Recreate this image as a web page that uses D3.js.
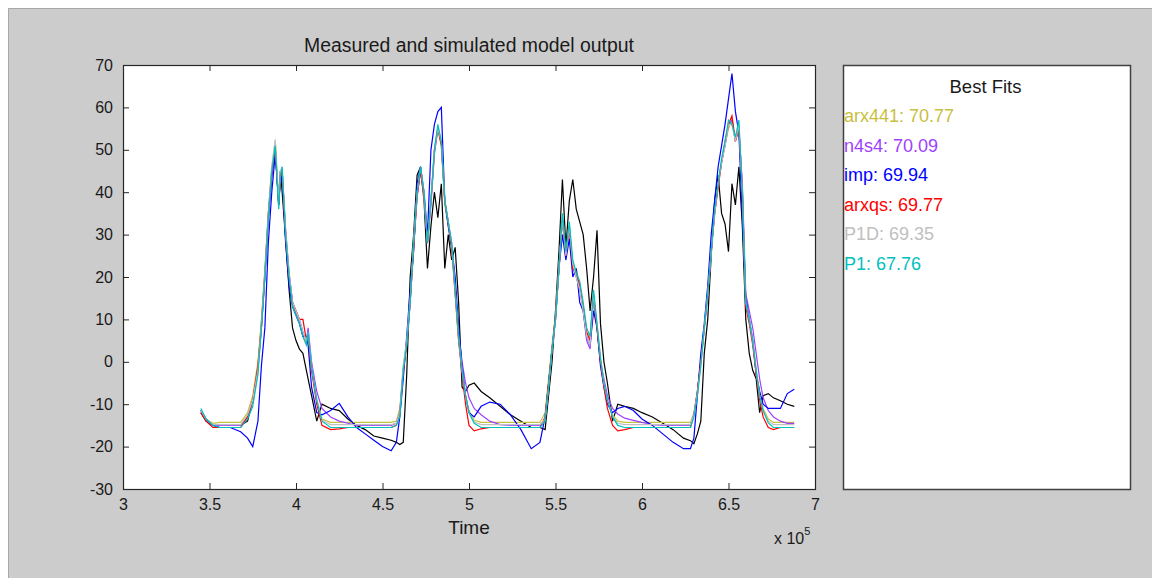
<!DOCTYPE html>
<html>
<head>
<meta charset="utf-8">
<script src="https://cdnjs.cloudflare.com/ajax/libs/d3/7.8.5/d3.min.js"></script>
<style>
	body { margin: 0; background: #ffffff; }
	svg text { font-family: Arial, "Liberation Sans", Helvetica, sans-serif; fill: #1a1a1a; }
</style>
</head>
<body>
<div id="chart"></div>
<script>
// time axis is in units of 1e5 (the "x 10^5" multiplier)
var time = [
	3.45, 3.48, 3.52, 3.56, 3.62, 3.68, 3.72, 3.75, 3.78, 3.80,
	3.82, 3.84, 3.86, 3.88, 3.90, 3.91, 3.92, 3.94, 3.96, 3.98,
	4.00, 4.02, 4.04, 4.06, 4.07, 4.09, 4.12, 4.15, 4.20, 4.25,
	4.30, 4.35, 4.40, 4.45, 4.50, 4.55, 4.58, 4.60, 4.62, 4.64,
	4.66, 4.68, 4.70, 4.72, 4.74, 4.76, 4.78, 4.80, 4.82, 4.84,
	4.86, 4.88, 4.90, 4.92, 4.94, 4.96, 4.98, 5.00, 5.03, 5.07,
	5.12, 5.18, 5.24, 5.30, 5.36, 5.41, 5.44, 5.46, 5.48, 5.50,
	5.52, 5.54, 5.56, 5.58, 5.60, 5.62, 5.64, 5.66, 5.68, 5.70,
	5.72, 5.74, 5.76, 5.78, 5.80, 5.83, 5.86, 5.90, 5.95, 6.00,
	6.06, 6.12, 6.18, 6.24, 6.28, 6.30, 6.32, 6.34, 6.36, 6.38,
	6.40, 6.42, 6.44, 6.46, 6.48, 6.50, 6.52, 6.54, 6.56, 6.58,
	6.60, 6.62, 6.64, 6.66, 6.68, 6.70, 6.73, 6.76, 6.80, 6.84, 6.88
];

var measured = [
	-12, -14, -15, -15, -15, -15, -14, -9, -1, 8,
	20, 34, 44, 50, 37, 45, 40, 29, 17, 8,
	5, 3, 2, -2, -4, -8, -14, -10, -11, -11.5,
	-13.5, -15, -16, -17.5, -18, -18.5, -19, -19.5, -19, -3,
	20, 30, 44, 46, 38, 22, 32, 40, 34, 42,
	22, 30, 24, 27, 14, -6, -7, -5.5, -5, -7,
	-8.5, -10.5, -12.5, -14, -15.5, -15.5, -16, -8, 0, 12,
	26, 43, 27, 38, 43, 36, 33, 30, 22, 12,
	20, 31, 9, 0, -5, -14, -10, -10.5, -11, -12,
	-13, -14.5, -16, -18, -18.6, -19.3, -17, -14, 2, 10,
	25, 38, 44, 35, 32.5, 26, 42, 37, 46, 32,
	10, 2, -2, -4, -12, -8, -7.5, -8.5, -9.2, -10, -10.5
];

var arx441 = [
	-11.5, -13.5, -14.5, -14.3, -14.3, -14.3, -12, -8, 0, 10,
	22, 35, 46, 52, 38, 43, 45, 31, 21, 14,
	11, 9, 6, 4, 6, -2, -9, -13.5, -14.3, -14.3,
	-14.3, -14.3, -14.3, -14.3, -14.3, -14.3, -14, -11, -1, 5,
	15, 28, 40, 45, 38, 29, 38, 49, 55, 51,
	37, 32, 27, 16, 5, -2, -8, -11.5, -13.8, -14.3,
	-14.3, -14.3, -14.3, -14.3, -14.3, -14.3, -12, -4, 4, 11,
	23, 33, 25, 31, 22, 22, 18, 13, 7, 6,
	15, 8, 0, -5, -9, -12.5, -14, -14.3, -14.3, -14.3,
	-14.3, -14.3, -14.3, -14.3, -14.3, -12, -7, 0, 8, 16,
	26, 35, 42, 47, 51, 55, 57, 52, 56, 38,
	14, 10, 5, -2, -7, -11, -13.5, -14.3, -14.3, -14.3, -14.3
];

var n4s4 = [
	-11.5, -13.8, -15, -15, -15, -15, -13, -9, -2, 8,
	20, 34, 44, 50, 37, 45, 45, 31, 21, 14,
	12, 10, 7, 5, 8, 0, -7, -11, -13, -14,
	-14.5, -15, -15, -15, -15, -15, -14.5, -12, -2, 4,
	14, 27, 39, 45, 39, 28, 37, 49, 55, 52,
	38, 33, 28, 18, 7, 0, -5, -8.5, -11, -12.5,
	-14, -14.8, -15, -15, -15, -15, -13.5, -6, 3, 10,
	22, 34, 25, 31, 22, 20, 17, 12, 5, 3,
	15, 8, 0, -4, -8, -11, -12.3, -13.3, -13.8, -14.3,
	-14.8, -15, -15, -15, -15, -12.5, -7, 0, 8, 16,
	26, 35, 42, 47, 51, 56, 57, 52, 55, 42,
	16, 12, 8, 2, -4, -8.5, -11.5, -13, -14, -14.5, -14.5
];

var imp = [
	-11.5, -13.5, -15, -15.5, -15.5, -16.5, -18, -20, -14, -1,
	8, 28, 40, 49, 38, 42, 44, 28, 18, 13,
	11, 9, 6, 6, 4, -6, -12, -12.5, -11.5, -9.8,
	-13, -15.5, -17, -18.5, -20, -21, -19, -13, -4, 6,
	17, 26, 42, 46, 40, 30, 50, 56, 59, 60,
	38, 32, 27, 20, 8, -1, -8, -12, -13, -10.5,
	-9.5, -10, -12.5, -16, -20.5, -19, -13, -5, 3, 10,
	22, 30, 24, 29, 20, 22, 14, 12, 6, 4,
	12, 8, -1, -6, -10, -12, -11, -10.5, -11.5, -13.5,
	-15, -17, -19, -20.5, -20.5, -18, -8, 2, 9, 18,
	30, 38, 46, 51, 56, 62, 68, 59, 54, 34,
	15, 10, 5, -3, -7, -10, -11, -11, -11, -7.5, -6.5
];

var arxqs = [
	-12, -14, -15.5, -15.5, -15.5, -15.5, -13, -9, -1, 9,
	21, 35, 45, 51, 37, 44, 45, 30, 20, 14,
	12, 10, 10, 5, 6, -2, -10, -15, -16, -15.8,
	-15.5, -15.5, -15.5, -15.5, -15.5, -15.5, -15, -12, -2, 4,
	14, 27, 39, 45, 39, 28, 38, 50, 55, 51,
	38, 33, 27, 16, 5, -3, -10, -15, -16.3, -15.8,
	-15.5, -15.5, -15.5, -15.5, -15.5, -15.5, -13, -5, 3, 11,
	22, 34, 25, 32, 22, 21, 18, 13, 7, 5,
	16, 8, 0, -6, -11, -15, -16.3, -16, -15.5, -15.5,
	-15.5, -15.5, -15.5, -15.5, -15.5, -12.5, -7, 0, 8, 16,
	26, 35, 41, 47, 52, 56, 58, 52, 55, 41,
	13, 9, 4, -3, -9, -13, -15.5, -16, -15.5, -15.5, -15.5
];

var p1d = [
	-11.5, -13.5, -14.8, -14.8, -14.8, -14.8, -12.5, -9, -2, 9,
	21, 35, 46, 52.5, 38, 45, 46, 31, 21, 14,
	12, 10, 7, 5, 7, -1, -9, -13.8, -14.8, -14.8,
	-14.8, -14.8, -14.8, -14.8, -14.8, -14.8, -14.5, -12, -1, 5,
	15, 28, 40, 46, 40, 28, 38, 50, 55, 52,
	38, 33, 28, 17, 6, -2, -8, -12, -14.2, -14.8,
	-14.8, -14.8, -14.8, -14.8, -14.8, -14.8, -13.5, -6, 3, 10,
	22, 34, 25, 32, 23, 20, 17, 12, 6, 4,
	16, 9, 1, -5, -9, -12.8, -14.5, -14.8, -14.8, -14.8,
	-14.8, -14.8, -14.8, -14.8, -14.8, -12.5, -7.5, -1, 8, 16,
	26, 35, 42, 47, 51, 56, 56, 52, 56, 40,
	14, 10, 5, -2, -8, -11.5, -14, -14.8, -14.8, -14.8, -14.8
];

var p1 = [
	-11, -13.5, -15, -15.5, -15.5, -15.5, -13.5, -10.5, -3, 8,
	20, 34, 45, 51, 36, 44, 46, 30, 20, 13,
	11, 9, 6, 4, 7, -1, -9, -14, -15.5, -15.5,
	-15.5, -15.5, -15.5, -15.5, -15.5, -15.5, -15, -13, -2, 4,
	14, 28, 40, 46, 40, 28, 38, 50, 56, 52,
	38, 33, 28, 17, 6, -2, -8, -12, -14.5, -15.5,
	-15.5, -15.5, -15.5, -15.5, -15.5, -15.5, -14, -6, 3, 10,
	22, 35, 26, 33, 24, 21, 19, 14, 8, 6,
	17, 9, 1, -5, -9, -13, -15, -15.5, -15.5, -15.5,
	-15.5, -15.5, -15.5, -15.5, -15.5, -13, -8, -1, 8, 16,
	26, 36, 42, 48, 52, 57, 56, 53, 57, 40,
	14, 10, 5, -2, -8, -11.5, -14.4, -15.5, -15.5, -15.5, -15.5
];

var xTicks = [3, 3.5, 4, 4.5, 5, 5.5, 6, 6.5, 7];
var yTicks = [-30, -20, -10, 0, 10, 20, 30, 40, 50, 60, 70];

var fitNames = ["arx441", "n4s4", "imp", "arxqs", "P1D", "P1"];
var fitValues = ["70.77", "70.09", "69.94", "69.77", "69.35", "67.76"];
var fitColors = ["#c8c040", "#a040ff", "#0000ff", "#ff0000", "#c0c0c0", "#00c0c0"];
var fitSeries = [arx441, n4s4, imp, arxqs, p1d, p1];

var W = 1152, H = 578;
var plot = {left: 123, right: 815, top: 65, bottom: 489};
var legendBox = {left: 843, right: 1130, top: 65, bottom: 489};

var svg = d3.select("#chart").append("svg")
	.attr("width", W)
	.attr("height", H);

// figure background
svg.append("rect").attr("x", 8).attr("y", 8).attr("width", W - 8).attr("height", H - 8)
	.attr("fill", "#cccccc");
svg.append("path").attr("d", "M8.5," + H + "V8.5H" + W)
	.attr("fill", "none").attr("stroke", "#a8a8a8");

var x = d3.scaleLinear().domain([3, 7]).range([plot.left, plot.right]);
var y = d3.scaleLinear().domain([-30, 70]).range([plot.bottom, plot.top]);

svg.append("rect")
	.attr("x", plot.left).attr("y", plot.top)
	.attr("width", plot.right - plot.left).attr("height", plot.bottom - plot.top)
	.attr("fill", "#ffffff");

svg.append("defs").append("clipPath").attr("id", "clip")
	.append("rect")
	.attr("x", plot.left).attr("y", plot.top)
	.attr("width", plot.right - plot.left).attr("height", plot.bottom - plot.top);

var line = d3.line()
	.x(function(d, i) { return x(time[i]); })
	.y(function(d) { return y(d); });

var lines = svg.append("g").attr("clip-path", "url(#clip)");

lines.append("path")
	.datum(measured)
	.attr("d", line)
	.attr("fill", "none")
	.attr("stroke", "#000000")
	.attr("stroke-width", 1.2);

fitSeries.forEach(function(s, i) {
	lines.append("path")
		.datum(s)
		.attr("d", line)
		.attr("fill", "none")
		.attr("stroke", fitColors[i])
		.attr("stroke-width", 1.2);
});

// axes, ticks pointing inwards like the original
var tickLen = 6;
var axisColor = "#262626";
var plainNum = function(d) { return String(d); };

svg.append("g")
	.attr("transform", "translate(0," + plot.bottom + ")")
	.call(d3.axisBottom(x).tickValues(xTicks).tickSize(-tickLen).tickPadding(tickLen + 6)
		.tickFormat(plainNum))
	.call(function(g) {
		g.select(".domain").remove();
		g.selectAll("line").attr("stroke", axisColor);
		g.selectAll("text").attr("font-size", "16px").attr("fill", "#1a1a1a").attr("dy", "0.55em");
	});

svg.append("g")
	.attr("transform", "translate(0," + plot.top + ")")
	.call(d3.axisTop(x).tickValues(xTicks).tickSize(-tickLen).tickFormat(""))
	.call(function(g) {
		g.select(".domain").remove();
		g.selectAll("line").attr("stroke", axisColor);
	});

svg.append("g")
	.attr("transform", "translate(" + plot.left + ",0)")
	.call(d3.axisLeft(y).tickValues(yTicks).tickSize(-tickLen).tickPadding(tickLen + 4)
		.tickFormat(plainNum))
	.call(function(g) {
		g.select(".domain").remove();
		g.selectAll("line").attr("stroke", axisColor);
		g.selectAll("text").attr("font-size", "16px").attr("fill", "#1a1a1a");
	});

svg.append("g")
	.attr("transform", "translate(" + plot.right + ",0)")
	.call(d3.axisRight(y).tickValues(yTicks).tickSize(-tickLen).tickFormat(""))
	.call(function(g) {
		g.select(".domain").remove();
		g.selectAll("line").attr("stroke", axisColor);
	});

svg.append("rect")
	.attr("x", plot.left + 0.5).attr("y", plot.top + 0.5)
	.attr("width", plot.right - plot.left).attr("height", plot.bottom - plot.top)
	.attr("fill", "none").attr("stroke", axisColor).attr("stroke-width", 1.2);

svg.append("text")
	.attr("x", (plot.left + plot.right) / 2).attr("y", 52)
	.attr("text-anchor", "middle").attr("font-size", "19.4px")
	.text("Measured and simulated model output");

svg.append("text")
	.attr("x", (plot.left + plot.right) / 2).attr("y", 534)
	.attr("text-anchor", "middle").attr("font-size", "19px")
	.text("Time");

var mult = svg.append("text")
	.attr("x", 774).attr("y", 544)
	.attr("font-size", "16px");
mult.append("tspan").text("x 10");
mult.append("tspan").attr("dy", -9).attr("font-size", "11px").text("5");

// legend box with best fit values
svg.append("rect")
	.attr("x", legendBox.left + 0.5).attr("y", legendBox.top + 0.5)
	.attr("width", legendBox.right - legendBox.left).attr("height", legendBox.bottom - legendBox.top)
	.attr("fill", "#ffffff").attr("stroke", "#404040").attr("stroke-width", 1.5);

svg.append("text")
	.attr("x", (legendBox.left + legendBox.right) / 2 - 1).attr("y", 93)
	.attr("text-anchor", "middle").attr("font-size", "18.5px")
	.text("Best Fits");

svg.append("g").selectAll("text")
	.data(fitNames)
	.join("text")
	.attr("x", legendBox.left + 1)
	.attr("y", function(d, i) { return 122 + i * 29.5; })
	.attr("font-size", "18px")
	.style("fill", function(d, i) { return fitColors[i]; })
	.text(function(d, i) { return d + ": " + fitValues[i]; });
</script>
</body>
</html>
